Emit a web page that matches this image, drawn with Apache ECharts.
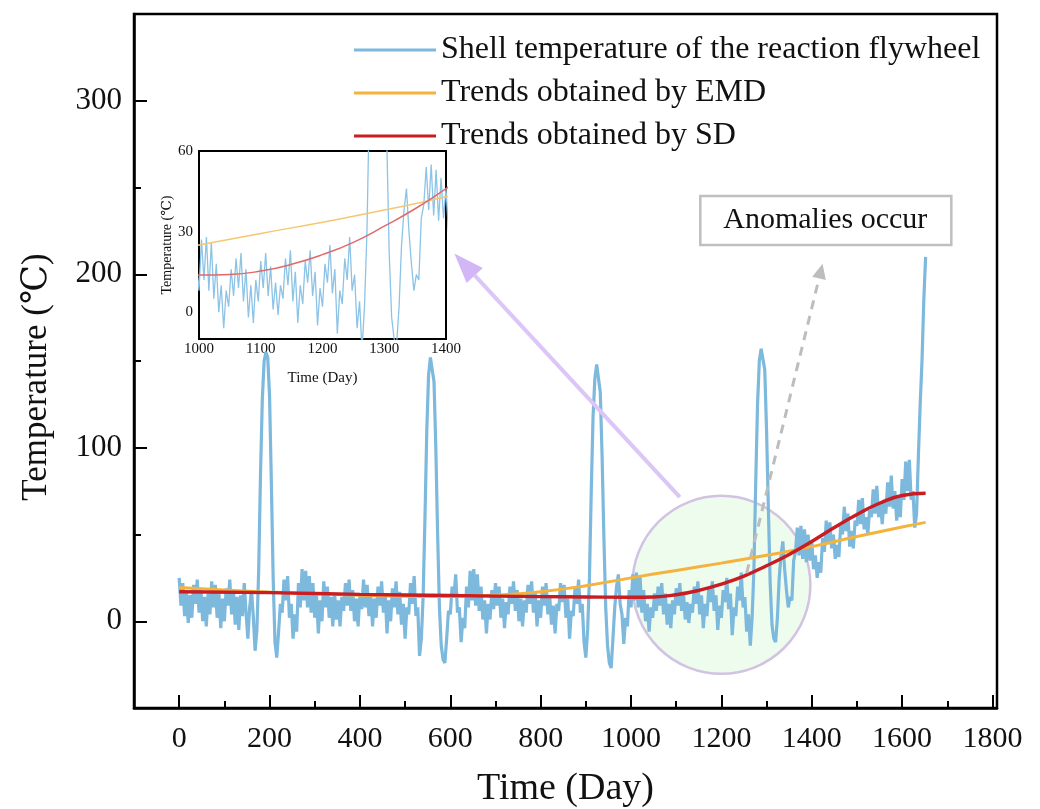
<!DOCTYPE html>
<html>
<head>
<meta charset="utf-8">
<script src="https://cdn.jsdelivr.net/npm/echarts@6/dist/echarts.min.js"></script>
<style>html,body{margin:0;padding:0;background:#fff}#c{width:1040px;height:809px}</style>
</head>
<body>
<div id="c"></div>
<script>
// ---- data ----
const blueStart = 0;
const blueStep = 4;
const blueValues = [
25, 9, 22, 3, 17, -1, 15, 2, 21, 10,
24, 5, 19, 0, 14, -3, 16, 4, 23, 8,
21, 2, 16, -4, 13, 0, 19, 9, 24, 4,
18, -2, 14, -5, 15, 3, 22, 5, -10, 8,
18, 3, -17, -5, 30, 85, 128, 150, 155, 152,
130, 80, 25, -12, -21, -6, 10, 5, 24, 12,
26, 2, 10, -10, 4, -6, 22, 8, 30, 12,
29, 8, 26, 5, 22, 2, 15, -7, 12, 0,
23, 8, 20, 2, 14, -3, 16, 1, 12, -3,
14, 6, 22, 9, 24, 6, 18, 0, 13, -3,
15, 7, 24, 8, 21, 3, 15, -3, 13, 2,
20, 9, 23, 5, 16, -7, 12, 0, 19, 8,
23, 4, 17, -2, 10, -10, 8, 4, 22, 10,
26, 3, 8, -20, -10, 15, 60, 110, 142, 152,
151, 138, 100, 50, 8, -14, -22, -24, -10, 6,
4, 20, 14, 27, 5, 8, -12, 2, -4, 20,
8, 29, 12, 30, 9, 27, 6, 20, 1, 12,
-7, 10, 1, 18, 7, 22, 9, 20, 2, 13,
-4, 11, 4, 20, 10, 23, 6, 18, 0, 13,
-3, 12, 5, 21, 10, 23, 5, 17, -3, 12,
2, 20, 9, 22, 4, 15, -2, 9, -7, 10,
6, 22, 11, 21, 2, 13, -10, 6, 3, 19,
10, 24, 5, 10, -12, -21, -5, 25, 75, 118,
140, 148, 147, 132, 95, 48, 8, -14, -24, -27,
-10, 8, 20, 27, 10, 4, -13, 2, -3, 18,
8, 27, 12, 28, 8, 26, 5, 18, 0, 10,
-6, 8, 2, 16, 6, 20, 9, 22, 4, 16,
-2, 10, -4, 12, 4, 19, 9, 22, 6, 17,
1, 11, -1, 10, 5, 20, 10, 23, 4, 15,
-4, 10, 3, 19, 11, 23, 6, 15, -5, 9,
2, 18, 11, 25, 7, 16, -8, 8, 3, 20,
12, 28, 8, 14, -6, 4, -14, 2, 30, 80,
125, 150, 157, 158, 145, 110, 65, 22, -2, -10,
-12, 2, 25, 38, 46, 30, 18, 8, 14, 12,
35, 40, 54, 38, 55, 36, 53, 34, 50, 35,
46, 30, 38, 25, 34, 28, 48, 40, 58, 45,
57, 42, 50, 36, 44, 37, 55, 50, 66, 52,
62, 43, 52, 42, 58, 55, 70, 56, 71, 53,
60, 50, 64, 60, 76, 62, 78, 60, 68, 56,
70, 62, 80, 66, 84, 65, 75, 58, 72, 60,
82, 70, 92, 75, 93, 70, 75, 54, 62, 95,
125, 150, 185, 210
];
const emdDays   = [0, 100, 200, 300, 400, 500, 600, 700, 800, 900, 1000, 1100, 1200, 1300, 1400, 1500, 1600, 1652];
const emdValues = [19.5, 18, 16.8, 15.8, 15, 14.4, 14.3, 15, 17, 20.5, 25, 29.3, 33.5, 38, 43, 48.8, 54.3, 57];
const sdDays    = [0, 200, 400, 600, 800, 900, 1000, 1050, 1100, 1150, 1200, 1250, 1300, 1350, 1400, 1450, 1500, 1550, 1600, 1652];
const sdValues  = [17, 16.5, 15.5, 14.8, 14.2, 14, 13.8, 14, 15.3, 17.8, 21.4, 26, 32, 38.5, 46, 54, 61.5, 68, 72.5, 73.8];

const seriesNames = ['Shell temperature of the reaction flywheel', 'Trends obtained by EMD', 'Trends obtained by SD'];
const xMajorTicks = [0, 200, 400, 600, 800, 1000, 1200, 1400, 1600, 1800];
const xMinorTicks = [100, 300, 500, 700, 900, 1100, 1300, 1500, 1700];
const yMajorTicks = [0, 100, 200, 300];
const yMinorTicks = [50, 150, 250];
const insetXTicks = [1000, 1100, 1200, 1300, 1400];
const insetYTicks = [0, 30, 60];

// annotation anchors (data units of the main chart)
const circleCenter = [1200, 21];
const zoomLinkFrom = [1108, 71.5];
const zoomLinkTo = [609, 212];
const anomalyArrowFrom = [1256, 27.7];
const anomalyArrowTo = [1424, 206];
const anomalyBoxCenter = [1430, 231];
const anomalyText = 'Anomalies occur';

// ---- build ----
const FONT = "'Liberation Serif', 'DejaVu Serif', serif";
const C_BLUE = '#7db8dd', C_ORANGE = '#f3b33d', C_RED = '#c81d22';
const bluePairs = blueValues.map((v, i) => [blueStart + i * blueStep, v]);
const emdPairs = emdDays.map((d, i) => [d, emdValues[i]]);
const sdPairs = sdDays.map((d, i) => [d, sdValues[i]]);
const plain = v => String(v);

const chart = echarts.init(document.getElementById('c'), null, {renderer: 'canvas'});
const axisLineStyle = {color: '#000', width: 2.5};
const option = {
  backgroundColor: '#fff',
  animation: false,
  grid: [
    {left: 134, right: 43, top: 14, bottom: 101, outerBoundsMode: 'none', containLabel: false,
     show: true, borderColor: '#000', borderWidth: 2.5, backgroundColor: 'transparent'},
    {left: 199, right: 594, top: 151, bottom: 470, outerBoundsMode: 'none', containLabel: false,
     show: true, borderColor: '#000', borderWidth: 2, backgroundColor: '#fff', z: 3}
  ],
  legend: {
    data: seriesNames,
    orient: 'vertical',
    left: 349, top: 29,
    icon: 'rect',
    itemWidth: 82, itemHeight: 3,
    itemGap: 11,
    textStyle: {fontFamily: FONT, fontSize: 32, color: '#111'}
  },
  xAxis: [
    {gridIndex: 0, type: 'value', min: -100, max: 1810,
     axisLine: {show: true, onZero: false, lineStyle: axisLineStyle},
     axisTick: {show: true, inside: true, length: 13, lineStyle: {color: '#000', width: 2}, customValues: xMajorTicks},
     axisLabel: {customValues: xMajorTicks, formatter: plain, fontFamily: FONT, fontSize: 30, color: '#111', margin: 16},
     splitLine: {show: false},
     name: 'Time (Day)', nameLocation: 'middle', nameGap: 62,
     nameTextStyle: {fontFamily: FONT, fontSize: 38, color: '#111'}},
    {gridIndex: 0, type: 'value', min: -100, max: 1810, position: 'bottom', offset: 0,
     axisLine: {show: false, onZero: false},
     axisTick: {show: true, inside: true, length: 7, lineStyle: {color: '#000', width: 2}, customValues: xMinorTicks},
     axisLabel: {show: false}, splitLine: {show: false}},
    {gridIndex: 1, type: 'value', min: 1000, max: 1400, interval: 100,
     axisLine: {show: true, onZero: false, lineStyle: {color: '#000', width: 2}},
     axisTick: {show: true, inside: true, length: 4, lineStyle: {color: '#000', width: 1.5}},
     axisLabel: {formatter: plain, fontFamily: FONT, fontSize: 15, color: '#111', margin: 3},
     splitLine: {show: false},
     name: 'Time (Day)', nameLocation: 'middle', nameGap: 32,
     nameTextStyle: {fontFamily: FONT, fontSize: 15, color: '#111'}}
  ],
  yAxis: [
    {gridIndex: 0, type: 'value', min: -50, max: 350,
     axisLine: {show: true, onZero: false, lineStyle: axisLineStyle},
     axisTick: {show: true, inside: true, length: 13, lineStyle: {color: '#000', width: 2}, customValues: yMajorTicks},
     axisLabel: {customValues: yMajorTicks, formatter: plain, fontFamily: FONT, fontSize: 31, color: '#111', margin: 12},
     splitLine: {show: false},
     name: 'Temperature (℃)', nameLocation: 'middle', nameGap: 80,
     nameTextStyle: {fontFamily: FONT, fontSize: 35, color: '#111', padding: [0, 32, 0, 0]}},
    {gridIndex: 0, type: 'value', min: -50, max: 350, position: 'left', offset: 0,
     axisLine: {show: false, onZero: false},
     axisTick: {show: true, inside: true, length: 7, lineStyle: {color: '#000', width: 2}, customValues: yMinorTicks},
     axisLabel: {show: false}, splitLine: {show: false}},
    {gridIndex: 1, type: 'value', min: -10, max: 60,
     axisLine: {show: true, onZero: false, lineStyle: {color: '#000', width: 2}},
     axisTick: {show: true, inside: true, length: 4, lineStyle: {color: '#000', width: 1.5}, customValues: insetYTicks},
     axisLabel: {customValues: insetYTicks, formatter: plain, fontFamily: FONT, fontSize: 15, color: '#111', margin: 6},
     splitLine: {show: false},
     name: 'Temperature (℃)', nameLocation: 'middle', nameGap: 20,
     nameTextStyle: {fontFamily: FONT, fontSize: 14, color: '#111'}}
  ],
  series: [
    {name: seriesNames[0], type: 'line', xAxisIndex: 0, yAxisIndex: 0, data: bluePairs,
     showSymbol: false, symbol: 'none', lineStyle: {color: C_BLUE, width: 3.2}, itemStyle: {color: C_BLUE}, z: 3},
    {name: seriesNames[1], type: 'line', xAxisIndex: 0, yAxisIndex: 0, data: emdPairs, smooth: true,
     showSymbol: false, symbol: 'none', lineStyle: {color: C_ORANGE, width: 3}, itemStyle: {color: C_ORANGE}, z: 4},
    {name: seriesNames[2], type: 'line', xAxisIndex: 0, yAxisIndex: 0, data: sdPairs, smooth: true,
     showSymbol: false, symbol: 'none', lineStyle: {color: C_RED, width: 3.4}, itemStyle: {color: C_RED}, z: 5},
    {name: 'inset-blue', type: 'line', xAxisIndex: 2, yAxisIndex: 2, data: bluePairs, clip: true,
     showSymbol: false, symbol: 'none', lineStyle: {color: '#8cc3e6', width: 1.3}, z: 6},
    {name: 'inset-emd', type: 'line', xAxisIndex: 2, yAxisIndex: 2, data: emdPairs, smooth: true, clip: true,
     showSymbol: false, symbol: 'none', lineStyle: {color: '#f6c770', width: 1.5}, z: 7},
    {name: 'inset-sd', type: 'line', xAxisIndex: 2, yAxisIndex: 2, data: sdPairs, smooth: true, clip: true,
     showSymbol: false, symbol: 'none', lineStyle: {color: '#e06a6a', width: 1.5}, z: 8}
  ]
};
chart.setOption(option);

function px(p) { return chart.convertToPixel({xAxisIndex: 0, yAxisIndex: 0}, p); }
function arrowHead(from, tip, len, halfW) {
  const dx = tip[0] - from[0], dy = tip[1] - from[1];
  const d = Math.hypot(dx, dy);
  const ux = dx / d, uy = dy / d;
  const bx = tip[0] - len * ux, by = tip[1] - len * uy;
  return {base: [bx, by], pts: [tip, [bx - halfW * uy, by + halfW * ux], [bx + halfW * uy, by - halfW * ux]]};
}
const cc = px(circleCenter);
const lf = px(zoomLinkFrom), lt = px(zoomLinkTo);
const af = px(anomalyArrowFrom), at = px(anomalyArrowTo);
const bc = px(anomalyBoxCenter);
const ph = arrowHead(lf, lt, 30, 11);
const gh = arrowHead(af, at, 15, 7);
chart.setOption({
  graphic: [
    {type: 'circle', z: 1, shape: {cx: cc[0], cy: cc[1], r: 89},
     style: {fill: '#eefcee', stroke: '#d3c3e3', lineWidth: 2.5}},
    {type: 'line', z: 20, shape: {x1: lf[0], y1: lf[1], x2: ph.base[0], y2: ph.base[1]},
     style: {stroke: '#dcc6f7', lineWidth: 4}},
    {type: 'polygon', z: 20, shape: {points: ph.pts}, style: {fill: '#d3b6f6'}},
    {type: 'line', z: 21, shape: {x1: af[0], y1: af[1], x2: gh.base[0], y2: gh.base[1]},
     style: {stroke: '#bdbdbd', lineWidth: 3, lineDash: [9, 7]}},
    {type: 'polygon', z: 21, shape: {points: gh.pts}, style: {fill: '#bdbdbd'}},
    {type: 'rect', z: 22, shape: {x: bc[0] - 125, y: bc[1] - 24.5, width: 251, height: 49},
     style: {fill: '#fff', stroke: '#bfbfbf', lineWidth: 2.5}},
    {type: 'text', z: 23, x: bc[0], y: bc[1],
     style: {text: anomalyText, font: "30px 'Liberation Serif', serif", fill: '#111', align: 'center', verticalAlign: 'middle'}}
  ]
});
</script>
</body>
</html>
